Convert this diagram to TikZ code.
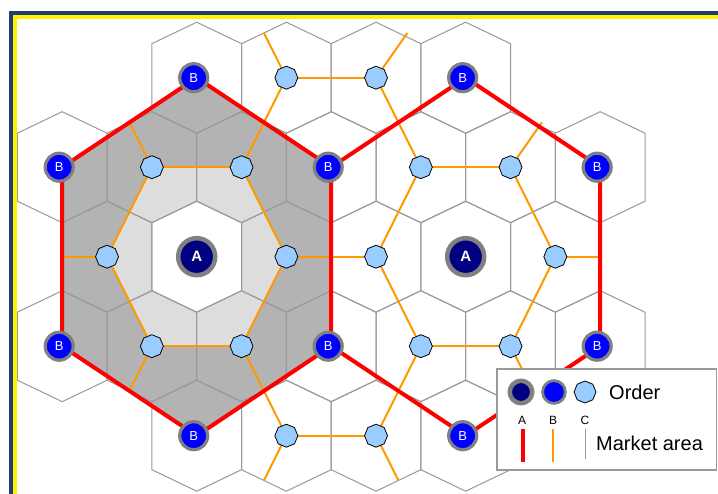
\documentclass[tikz,border=0pt]{standalone}
\usepackage{fontspec}
\setmainfont{Liberation Sans}
\usetikzlibrary{shapes.geometric,backgrounds}

\definecolor{framenavy}{HTML}{1F3F70}
\definecolor{cellgray}{HTML}{999999}
\definecolor{ringgray}{HTML}{808080}
\definecolor{areadark}{HTML}{B3B3B3}
\definecolor{arealight}{HTML}{DDDDDD}
\definecolor{borange}{HTML}{FF9900}
\definecolor{anavy}{HTML}{000080}
\definecolor{cblue}{HTML}{99CCFF}

\begin{document}
\begin{tikzpicture}[x=1pt, y=-1pt,
  cell/.style={draw=cellgray, line width=1pt},
  amarket/.style={draw=red, line width=4pt, line join=round},
  bmarket/.style={draw=borange, line width=2pt},
  aplace/.style={circle, fill=anavy, draw=ringgray, line width=4.5pt, minimum size=37pt, inner sep=0pt, text=white, font=\fontsize{15}{15}\selectfont\bfseries},
  bplace/.style={circle, fill=blue, draw=ringgray, line width=3.2pt, minimum size=28pt, inner sep=0pt, text=white, font=\fontsize{13}{13}\selectfont},
  cplace/.style={regular polygon, regular polygon sides=8, shape border rotate=22.5, fill=cblue, draw=black, line width=0.8pt, minimum size=23pt, inner sep=0pt},
  keytext/.style={inner sep=0pt, font=\fontsize{20}{20}\selectfont}]
  \useasboundingbox (0,0) rectangle (718,494);
  \fill[framenavy] (9,11.5) rectangle (718,15);
  \fill[framenavy] (9,11.5) rectangle (13.3,494);
  \fill[yellow] (13.3,15) rectangle (718,19);
  \fill[yellow] (13.3,15) rectangle (16.7,494);

  \begin{scope}[shift={(196.7,256.7)}, x=44.83pt, y=-89.5pt]
    \node[aplace] (a1) at (0,0) {A};
    \node[aplace] (a2) at (6,0) {A};
    \foreach \n/\m/\k in {1/0/-2, 2/3/-1, 3/3/1, 4/0/2, 5/-3/1, 6/-3/-1, 7/6/-2, 8/9/-1, 9/9/1, 10/6/2} {
      \coordinate (pb\n) at (\m,\k);
      \node[bplace, xshift=-3pt] (b\n) at (pb\n) {B};
    }
    \foreach \n/\m/\k in {1/2/-2, 2/4/-2, 3/-1/-1, 4/1/-1, 5/5/-1, 6/7/-1, 7/-2/0, 8/2/0, 9/4/0, 10/8/0, 11/-1/1, 12/1/1, 13/5/1, 14/7/1, 15/2/2, 16/4/2}
      \node[cplace] (c\n) at (\m,\k) {};
    \foreach \n/\m/\k in {1/1.5/-2.5, 2/4.7/-2.5, 3/-1.5/-1.5, 4/7.7/-1.5, 5/-3/0, 6/9/0, 7/-1.5/1.5, 8/7.5/1.5, 9/1.5/2.5, 10/4.5/2.5}
      \coordinate (o\n) at (\m,\k);
  \end{scope}

  \begin{scope}[on background layer]
    \fill[white] (0,0) rectangle (718,494);
    \fill[areadark] (pb1) -- (pb2) -- (pb3) -- (pb4) -- (pb5) -- (pb6) -- cycle;
    \fill[arealight] (c3.center) -- (c4.center) -- (c8.center) -- (c12.center) -- (c11.center) -- (c7.center) -- cycle;
    \begin{scope}[shift={(196.7,256.7)}, x=44.83pt, y=-89.5pt]
      \fill[white] (0,-0.62) -- (1,-0.38) -- (1,0.38) -- (0,0.62) -- (-1,0.38) -- (-1,-0.38) -- cycle;
      \foreach \m/\k in {0/-2, 2/-2, 4/-2, 6/-2, -3/-1, -1/-1, 1/-1, 3/-1, 5/-1, 7/-1, 9/-1, -2/0, 0/0, 2/0, 4/0, 6/0, 8/0, -3/1, -1/1, 1/1, 3/1, 5/1, 7/1, 9/1, 0/2, 2/2, 4/2, 6/2}
        \draw[cell] (\m,\k) ++(0,-0.62) -- ++(1,0.24) -- ++(0,0.76) -- ++(-1,0.24) -- ++(-1,-0.24) -- ++(0,-0.76) -- cycle;
    \end{scope}
    \foreach \p/\q in {c1/c2, c3/c4, c5/c6, c8/c9, c11/c12, c13/c14, c15/c16, c1/c4, c2/c5, c4/c8, c3/c7, c5/c9, c6/c10, c8/c12, c7/c11, c9/c13, c10/c14, c12/c15, c13/c16, c1/o1, c2/o2, c3/o3, c6/o4, c7/o5, c10/o6, c11/o7, c14/o8, c15/o9, c16/o10}
      \draw[bmarket] (\p.center) -- (\q.center);
    \draw[amarket] (pb1) -- (pb2) -- (pb3) -- (pb4) -- (pb5) -- (pb6) -- cycle;
    \draw[amarket] (pb2) -- (pb7) -- (pb8) -- (pb9) -- (pb10) -- (pb3);
  \end{scope}

  \draw[cellgray, line width=1.5pt, fill=white] (497,369) rectangle (716.7,470);
  \node[aplace, minimum size=22.5pt] (keya) at (521,392) {};
  \node[bplace, minimum size=22.8pt, line width=2.8pt] (keyb) at (554,392) {};
  \node[cplace, minimum size=22pt] (keyc) at (585,392) {};
  \node[keytext, anchor=west] (order) at (609,392) {Order};
  \node[inner sep=0pt, font=\fontsize{12}{12}\selectfont] (labela) at (522,420) {A};
  \node[inner sep=0pt, font=\fontsize{12}{12}\selectfont] (labelb) at (553,420) {B};
  \node[inner sep=0pt, font=\fontsize{12}{12}\selectfont] (labelc) at (585,420) {C};
  \draw[red, line width=4pt] (522.7,429) -- (522.7,461.7);
  \draw[borange, line width=2pt] (552.7,429) -- (552.7,461.7);
  \draw[cellgray, line width=1.2pt] (585.3,429) -- (585.3,459);
  \node[keytext, anchor=west] (market) at (596,443.3) {Market area};
\end{tikzpicture}
\end{document}
